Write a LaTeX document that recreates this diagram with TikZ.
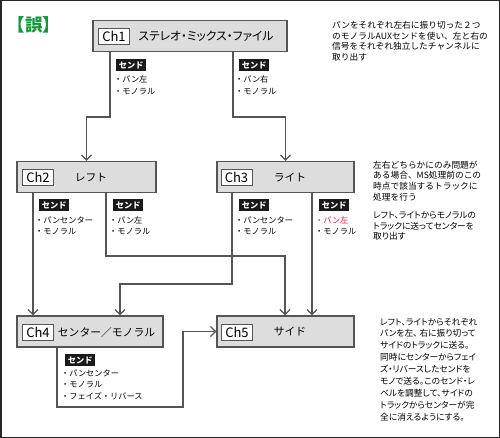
\documentclass[tikz,border=0pt]{standalone}
\usepackage{fontspec}
\setmainfont{Noto Sans CJK JP}
\newfontfamily\paltfont{Noto Sans CJK JP}[RawFeature=+palt]
\usetikzlibrary{calc,arrows.meta}
\definecolor{boxgray}{RGB}{221,221,221}
\definecolor{linegray}{RGB}{85,85,85}
\definecolor{titlegreen}{RGB}{20,150,60}
\definecolor{sendred}{RGB}{230,30,40}
\newcommand{\linecolor}{linegray}
\newcommand{\wirewidth}{1.3pt}
\tikzset{
  chbox/.style={draw=\linecolor, fill=boxgray, line width=\wirewidth, minimum height=31pt, inner sep=0pt},
  chtag/.style={draw=\linecolor, fill=white, line width=0.9pt, minimum width=31pt, minimum height=16pt, inner sep=0pt, font=\fontsize{13}{13}\selectfont},
  chname/.style={inner sep=0pt, font=\fontsize{10.8}{10.8}\selectfont},
  sendtag/.style={fill=black!90, text=white, minimum width=30pt, minimum height=12pt, inner sep=0pt, anchor=north west, font=\fontsize{8.2}{8.2}\selectfont\bfseries},
  sendlist/.style={anchor=base west, inner sep=0pt, align=left, font=\fontsize{8.2}{11.5}\selectfont},
  note/.style={anchor=base west, inner sep=0pt, align=left, font=\fontsize{8.7}{10.6}\selectfont},
  pnote/.style={anchor=base west, inner sep=0pt, align=left, font=\paltfont\fontsize{8.7}{11.9}\selectfont},
  conn/.style={draw=\linecolor, line width=\wirewidth, -{Straight Barb[length=5pt,width=10pt]}},
}
\begin{document}
\begin{tikzpicture}[x=1pt, y=-1pt]
\useasboundingbox (0,0) rectangle (500,438);
\draw[line width=1.5pt, black!85] (0.75,0.75) rectangle (499.25,437.25);
\node[font=\fontsize{17.5}{17.5}\selectfont\bfseries, text=titlegreen] (title) at (34,24.5) {【誤】};
%Ch1
\node[chbox, minimum width=194pt] (ch1) at (190,36) {};
\node[chtag] (ch1tag) at (114,36) {Ch1};
\node[chname, font=\paltfont\fontsize{11.8}{11.8}\selectfont] (ch1name) at (206,36) {ステレオ・ミックス・ファイル};
%Ch2
\node[chbox, minimum width=139pt] (ch2) at (86.5,177) {};
\node[chtag] (ch2tag) at (38,177) {Ch2};
\node[chname] (ch2name) at (91,177) {レフト};
%Ch3
\node[chbox, minimum width=137pt] (ch3) at (285.5,177) {};
\node[chtag] (ch3tag) at (236.5,177) {Ch3};
\node[chname] (ch3name) at (290,177) {ライト};
%Ch4
\node[chbox, minimum width=146pt] (ch4) at (90,331.5) {};
\node[chtag] (ch4tag) at (38,332) {Ch4};
\node[chname] (ch4name) at (106.5,332) {センター／モノラル};
%Ch5
\node[chbox, minimum width=137pt] (ch5) at (285.5,331.5) {};
\node[chtag] (ch5tag) at (237,332) {Ch5};
\node[chname] (ch5name) at (290,332) {サイド};
%wires
\coordinate (b1) at (110,117);
\coordinate (b2) at (233,117);
\coordinate (b3) at (33,250);
\coordinate (b4) at (106,256);
\coordinate (b5) at (285,256);
\coordinate (b6) at (232,284);
\coordinate (b7) at (120,284);
\coordinate (b8) at (312,250);
\coordinate (b9) at (57,407);
\coordinate (b10) at (183,407);
\draw[conn] (ch1.south -| b1) -- (b1) -| (ch2.north);
\draw[conn] (ch1.south -| b2) -- (b2) -| (ch3.north);
\draw[conn] (ch2.south -| b3) -- (ch4.north -| b3);
\draw[conn] (ch2.south -| b4) -- (b4) -- (b5) -- (ch5.north -| b5);
\draw[conn] (ch3.south -| b6) -- (b6) -- (b7) -- (ch4.north -| b7);
\draw[conn] (ch3.south -| b8) -- (ch5.north -| b8);
\draw[conn] (ch4.south -| b9) -- (b9) -- (b10) |- (ch5.west);
%sends (anchored at the last line)
\node[sendtag] (s1l) at (116,59) {センド};
\node[sendlist] (l1l) at (114,94.5) {・パン左\\・モノラル};
\node[sendtag] (s1r) at (239,59) {センド};
\node[sendlist] (l1r) at (235,94.5) {・パン右\\・モノラル};
\node[sendtag] (s2l) at (39,199) {センド};
\node[sendlist] (l2l) at (35,234.5) {・パンセンター\\・モノラル};
\node[sendtag] (s2r) at (113,199) {センド};
\node[sendlist] (l2r) at (109,234.5) {・パン左\\・モノラル};
\node[sendtag] (s3l) at (239,199) {センド};
\node[sendlist] (l3l) at (235,234.5) {・パンセンター\\・モノラル};
\node[sendtag] (s3r) at (319,199) {センド};
\node[sendlist] (l3r) at (315,234.5) {\textcolor{sendred}{・パン左}\\・モノラル};
\node[sendtag] (s4) at (65,354) {センド};
\node[sendlist] (l4) at (61,399) {・パンセンター\\・モノラル\\・フェイズ・リバース};
%notes
\node[note] (n1) at (332,60.3) {パンをそれぞれ左右に振り切った２つ\\のモノラルAUXセンドを使い、左と右の\\信号をそれぞれ独立したチャンネルに\\取り出す};
\node[note] (n2) at (373,200.1) {左右どちらかにのみ問題が\\ある場合、MS処理前のこの\\時点で該当するトラックに\\処理を行う};
\node[pnote, font=\paltfont\fontsize{8.7}{10.8}\selectfont] (n3) at (373,239.9) {レフト、ライトからモノラルの\\トラックに送ってセンターを\\取り出す};
\node[pnote] (n4) at (380,420.2) {レフト、ライトからそれぞれ\\パンを左、 右に振り切って\\サイドのトラックに送る。\\同時にセンターからフェイ\\ズ・リバースしたセンドを\\モノで送る。このセンド・レ\\ベルを調整して、サイドの\\トラックからセンターが完\\全に消えるようにする。};
\end{tikzpicture}
\end{document}
